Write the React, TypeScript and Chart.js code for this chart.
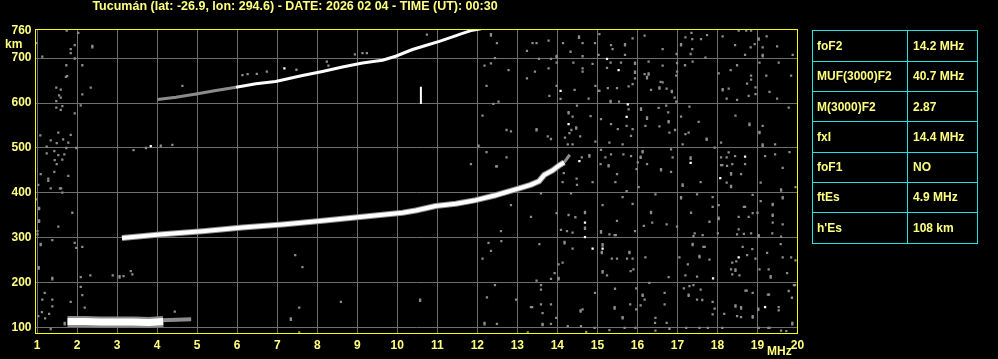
import React, { useEffect, useRef } from 'react';
import { Chart, registerables } from 'chart.js';

Chart.register(...registerables);

// ---------- text ----------
const TITLE = 'Tucumán (lat: -26.9, lon: 294.6) - DATE: 2026 02 04 - TIME (UT): 00:30';
const X_UNIT = 'MHz';
const Y_UNIT = 'km';

// ---------- axes ----------
const F_MIN = 0.96;
const F_MAX = 20;
const H_MIN = 87.5;
const H_MAX = 764.6;
const X_TICKS = [1, 2, 3, 4, 5, 6, 7, 8, 9, 10, 11, 12, 13, 14, 15, 16, 17, 18, 19, 20];
const Y_TICKS = [100, 200, 300, 400, 500, 600, 700, 760];

// ---------- parameter table ----------
const PARAM_NAMES = ['foF2', 'MUF(3000)F2', 'M(3000)F2', 'fxI', 'foF1', 'ftEs', "h'Es"];
const PARAM_VALUES = ['14.2 MHz', '40.7 MHz', '2.87', '14.4 MHz', 'NO', '4.9 MHz', '108 km'];

// ---------- traces [frequency MHz, virtual height km] ----------
const f2Trace = [
  [3.12, 300], [4.13, 308], [5.13, 315], [6.13, 323], [7.13, 330], [8.13, 338],
  [9.13, 347], [10.13, 356], [10.46, 361], [10.96, 371], [11.46, 376], [11.96, 384],
  [12.46, 395], [12.96, 408], [13.33, 418], [13.54, 426], [13.67, 440], [13.88, 450],
  [14.04, 461], [14.17, 468],
];
const f2Tail = [[14.17, 468], [14.31, 485]];
const f2SecondHopFaint = [[4.01, 608], [4.47, 613], [4.97, 620], [5.47, 628], [5.97, 635]];
const f2SecondHop = [
  [5.97, 635], [6.47, 643], [6.96, 648], [7.63, 661], [8.13, 670], [8.63, 680],
  [9.13, 689], [9.63, 695], [9.96, 704], [10.38, 719], [10.71, 728], [11.05, 737],
  [11.38, 747], [11.63, 755], [11.84, 761], [12.09, 765],
];
const esTrace = [[1.76, 114], [2.2, 114], [2.6, 113], [3.0, 113], [3.4, 113], [3.8, 112], [4.15, 114]];
const esTail = [[4.1, 117], [4.5, 118], [4.85, 119]];
const markerSegment = [[10.59, 598], [10.59, 636]];

// ---------- scattered echoes ----------
const noiseWhite = [
  [7.18, 677], [3.84, 504], [14.08, 627], [14.28, 553], [15.24, 698], [15.53, 673],
  [15.76, 597], [15.73, 569], [18.69, 481], [18.07, 433], [17.33, 467], [14.55, 471],
  [14.69, 334], [14.69, 302], [14.88, 276], [15.13, 276], [18.53, 257], [17.89, 210],
  [19.19, 146], [4.43, 612], [4.97, 620],
];
const noiseGray = [
  [1.74, 761], [2.03, 756], [0.98, 733], [1.94, 729], [1.84, 720], [1.84, 711], [2.38, 727], [2.38, 724],
  [1.13, 703], [1.94, 699], [1.73, 684], [2.13, 684], [1.72, 658], [1.75, 660], [1.48, 634], [1.59, 630],
  [2.34, 634], [2.13, 619], [1.55, 617], [1.59, 612], [1.48, 604], [1.63, 593], [1.48, 590], [1.59, 585],
  [2.09, 595], [1.94, 577], [4.63, 638], [6.26, 664], [6.13, 662], [6.49, 665], [6.74, 670], [7.48, 674],
  [8.24, 692], [8.28, 683], [8.94, 708], [9.13, 711], [9.24, 711], [1.08, 528], [1.34, 517], [1.53, 534],
  [1.65, 519], [1.78, 512], [1.84, 529], [1.49, 511], [1.24, 503], [1.73, 500], [1.98, 500], [1.43, 493],
  [1.24, 488], [1.53, 484], [1.68, 486], [1.44, 473], [1.63, 474], [1.49, 464], [1.43, 447], [1.09, 442],
  [1.78, 438], [1.28, 432], [3.41, 495], [3.72, 500], [4.09, 505], [4.38, 507],
  [10.74, 752], [12.34, 753], [12.34, 750], [12.49, 733], [12.44, 700], [12.18, 683], [12.34, 688], [12.78, 673],
  [12.23, 638], [12.53, 603], [12.4, 598], [12.13, 572], [12.73, 540], [12.84, 537], [13.48, 542], [13.48, 539],
  [13.76, 526], [13.84, 520], [12.03, 505], [12.23, 491], [12.73, 479], [11.84, 464], [12.49, 459], [13.38, 733],
  [13.48, 733], [13.24, 716], [13.78, 739], [13.54, 698], [13.84, 698], [13.98, 705], [13.98, 702], [13.78, 677],
  [13.44, 670], [13.24, 655], [13.98, 638], [13.8, 616], [14.08, 609], [14.43, 629], [14.14, 733], [14.54, 748],
  [14.54, 745], [14.63, 733], [14.94, 733], [14.33, 714], [14.63, 704], [13.98, 690], [14.4, 690], [14.63, 677],
  [14.63, 670], [14.88, 687], [14.95, 638], [15.03, 627], [14.78, 610], [14.49, 594], [14.28, 580], [14.28, 577],
  [14.38, 570], [14.83, 571], [14.47, 546], [14.47, 543], [14.35, 540], [14.3, 533], [14.19, 523], [14.57, 526],
  [14.38, 508], [14.26, 508], [15.05, 753], [15.34, 729], [15.69, 731], [15.69, 728], [15.38, 720], [15.88, 744],
  [15.03, 707], [15.69, 707], [15.24, 678], [15.33, 690], [15.59, 690], [15.94, 690], [15.94, 687], [15.94, 670],
  [15.94, 667], [15.94, 655], [15.88, 642], [15.78, 637], [15.49, 633], [15.26, 633], [15.05, 627], [15.33, 605],
  [15.33, 602], [15.54, 603], [15.78, 586], [15.73, 549], [15.51, 542], [15.34, 553], [15.09, 564], [15.88, 542],
  [15.84, 527], [15.63, 508], [15.3, 512], [14.95, 514], [16.18, 750], [16.63, 720], [16.98, 709], [17.09, 731],
  [17.09, 728], [17.2, 746], [17.37, 742], [17.35, 756], [17.59, 742], [17.74, 751], [17.37, 720], [17.33, 709],
  [17.7, 701], [17.38, 692], [17.19, 684], [16.99, 689], [16.63, 683], [16.28, 692], [16.18, 664], [16.28, 666],
  [16.28, 663], [16.24, 658], [16.24, 655], [16.58, 647], [16.63, 646], [16.55, 635], [16.55, 632], [16.34, 629],
  [16.73, 632], [16.86, 627], [16.86, 624], [16.97, 661], [16.99, 670], [16.93, 612], [16.97, 603], [16.72, 594],
  [16.53, 589], [16.09, 588], [16.09, 585], [16.24, 568], [16.24, 565], [16.77, 579], [16.78, 560], [16.78, 557],
  [17.09, 570], [16.2, 549], [16.55, 548], [16.94, 540], [16.8, 534], [17.2, 531], [17.28, 534], [17.3, 592],
  [17.53, 558], [17.73, 521], [17.73, 518], [17.13, 508], [17.93, 501], [18.13, 748], [18.44, 729], [18.53, 761],
  [18.72, 761], [18.84, 761], [18.93, 731], [18.83, 724], [19.03, 744], [19.03, 741], [19.23, 748], [19.13, 724],
  [19.13, 707], [19.13, 704], [19.49, 726], [19.88, 707], [18.69, 707], [19.05, 690], [19.53, 690], [18.49, 684],
  [18.33, 673], [18.03, 666], [18.84, 661], [18.84, 652], [18.74, 643], [18.95, 635], [18.13, 631], [18.13, 628],
  [18.28, 632], [19.3, 625], [18.78, 616], [18.95, 620], [18.23, 610], [18.49, 607], [19.49, 610], [19.78, 590],
  [19.22, 661], [19.84, 661], [18.45, 572], [18.8, 554], [18.8, 551], [19.13, 549], [19.05, 536], [19.05, 533],
  [19.13, 508], [19.13, 505], [19.44, 508], [18.09, 512], [18.28, 490], [18.09, 479], [18.23, 479], [18.44, 482],
  [18.09, 462], [18.12, 462], [18.24, 460], [18.34, 444], [18.34, 441], [18.59, 442], [18.37, 464], [18.69, 464],
  [19.19, 482], [19.44, 486], [19.8, 491], [19.63, 456], [17.33, 479], [17.33, 476], [16.84, 497], [16.88, 479],
  [16.59, 453], [16.59, 450], [16.84, 447], [16.24, 464], [16.08, 481], [16.08, 478], [16.13, 493], [16.13, 490],
  [16.01, 468], [15.84, 482], [15.65, 486], [15.34, 486], [15.2, 479], [15.28, 462], [15.28, 459], [15.08, 464],
  [15.49, 442], [15.98, 453], [14.8, 484], [14.8, 481], [15.09, 496], [14.61, 479], [14.48, 432], [14.16, 444],
  [13.97, 454], [12.47, 459],
  [1.28, 427], [1.03, 418], [1.34, 410], [1.57, 410], [1.6, 410], [1.63, 401], [0.97, 386], [1.05, 367],
  [1.05, 364], [1.88, 356], [1.05, 339], [1.05, 336], [1.53, 325], [1.01, 315], [1.01, 308], [1.38, 295],
  [1.09, 287], [1.09, 284], [1.94, 289], [2.13, 280], [1.98, 278], [1.04, 235], [1.04, 232], [2.33, 217],
  [2.09, 213], [1.38, 211], [1.38, 208], [2.89, 217], [3.06, 215], [3.06, 212], [3.16, 215], [3.34, 226],
  [3.38, 219], [2.09, 191], [2.13, 173], [1.19, 178], [1.13, 163], [1.38, 163], [1.38, 148], [1.84, 158],
  [2.19, 145], [1.12, 135], [1.3, 131], [1.2, 121], [1.03, 126], [1.34, 97], [1.69, 111], [1.69, 108],
  [4.44, 136], [7.45, 262], [7.63, 235], [8.59, 158], [7.55, 145], [7.34, 121], [7.34, 118], [7.55, 90],
  [14.13, 424], [14.49, 418], [14.88, 424], [15.45, 424], [16.03, 413], [17.13, 419], [17.13, 416], [17.58, 424],
  [18.23, 423], [18.34, 416], [18.34, 413], [19.08, 423], [19.59, 408], [19.59, 405], [19.95, 413], [13.59, 399],
  [14.34, 399], [15.63, 391], [15.73, 404], [16.45, 397], [17.09, 391], [17.09, 388], [17.49, 397], [17.88, 391],
  [18.88, 396], [19.63, 391], [19.63, 388], [19.08, 382], [19.38, 376], [19.38, 373], [18.66, 369], [18.69, 369],
  [18.03, 373], [17.88, 369], [15.88, 376], [15.13, 373], [12.84, 373], [13.34, 347], [13.98, 355], [14.28, 351],
  [14.45, 346], [14.69, 358], [14.69, 355], [14.69, 323], [14.69, 320], [15.49, 338], [16.34, 358], [16.34, 355],
  [16.37, 334], [16.73, 330], [17.34, 356], [17.8, 336], [18.03, 345], [18.03, 342], [18.53, 347], [18.78, 347],
  [19.38, 352], [19.38, 349], [19.38, 334], [19.63, 330], [18.88, 355], [19.0, 356], [14.09, 318], [14.24, 315],
  [14.38, 312], [15.09, 315], [15.09, 312], [15.3, 308], [15.43, 306], [15.46, 306], [15.94, 315], [16.16, 327],
  [16.99, 325], [17.43, 310], [17.63, 306], [17.4, 304], [18.01, 310], [18.49, 308], [18.66, 309], [18.84, 310],
  [19.03, 306], [19.03, 303], [19.37, 310], [19.59, 303], [18.53, 319], [12.59, 315], [12.28, 289], [12.6, 293],
  [12.34, 271], [12.13, 254], [13.55, 286], [14.18, 291], [14.18, 288], [14.38, 276], [15.13, 286], [15.13, 283],
  [15.11, 269], [15.11, 266], [15.8, 269], [15.8, 266], [15.36, 254], [15.49, 254], [15.74, 254], [15.88, 254],
  [16.2, 257], [17.38, 287], [17.38, 284], [17.65, 280], [17.68, 280], [17.55, 260], [17.55, 257], [17.05, 257],
  [17.26, 241], [17.8, 252], [18.47, 248], [18.37, 245], [18.45, 230], [18.45, 227], [18.34, 230], [18.37, 219],
  [18.55, 217], [18.63, 280], [18.87, 275], [18.74, 262], [18.95, 254], [19.24, 267], [19.05, 230], [19.28, 230],
  [19.33, 215], [19.33, 212], [19.74, 222], [19.63, 257], [19.84, 257], [19.58, 286], [19.95, 250], [14.13, 245],
  [14.03, 241], [13.93, 222], [13.84, 209], [14.03, 211], [14.03, 208], [13.48, 205], [15.13, 226], [15.13, 223],
  [15.24, 217], [15.83, 226], [15.9, 230], [16.78, 213], [17.2, 217], [17.49, 214], [12.44, 195], [13.59, 195],
  [13.59, 185], [12.24, 168], [12.97, 163], [13.34, 146], [13.37, 146], [13.59, 152], [13.84, 152], [14.94, 178],
  [15.44, 187], [15.43, 146], [15.43, 143], [15.63, 124], [15.63, 121], [15.82, 152], [15.97, 188], [15.97, 141],
  [16.13, 174], [16.13, 171], [16.18, 163], [16.08, 150], [16.3, 200], [16.68, 178], [16.68, 152], [16.45, 122],
  [16.73, 111], [16.44, 111], [17.16, 188], [17.3, 193], [17.4, 195], [17.58, 185], [17.28, 174], [17.28, 171],
  [17.49, 163], [17.62, 162], [17.88, 158], [17.93, 143], [17.88, 130], [18.17, 131], [18.45, 150], [18.45, 147],
  [18.59, 146], [18.59, 143], [18.7, 183], [18.73, 183], [18.88, 178], [18.49, 126], [18.59, 124], [18.88, 126],
  [18.88, 123], [19.02, 143], [19.02, 140], [19.26, 174], [19.29, 174], [19.53, 146], [19.53, 139], [19.78, 182],
  [19.86, 167], [19.91, 195], [19.94, 195], [19.87, 111], [19.87, 108], [19.27, 100], [19.3, 100], [19.03, 100],
  [19.59, 94], [19.72, 93], [18.12, 100], [17.76, 100], [17.55, 100], [17.22, 100], [16.8, 98], [16.45, 94],
  [15.95, 100], [15.68, 100], [15.3, 95], [14.93, 100], [14.72, 91], [14.59, 104], [14.26, 104], [13.63, 109],
  [13.63, 106], [13.84, 109], [13.26, 90], [12.49, 109], [12.18, 111], [12.18, 108], [10.57, 163], [10.57, 160],
  [13.63, 133], [13.97, 122], [14.58, 139], [14.58, 136], [14.63, 141],
];

// ---------- colours ----------
const BG = '#000000';
const GRID = '#6e6e6e';
const FRAME = '#ffff00';
const TEXT = '#ffff80';
const TABLE_LINE = '#22e0e0';
const ECHO_WHITE = '#ffffff';
const ECHO_GRAY = '#8c8c8c';
const FONT = '"Liberation Sans", Arial, sans-serif';

const toXY = (arr: number[][]) => arr.map(([x, y]) => ({ x, y }));

const decorPlugin = {
  id: 'ionogramDecor',
  beforeDraw(chart: any) {
    const { ctx, width, height } = chart;
    ctx.save();
    ctx.fillStyle = BG;
    ctx.fillRect(0, 0, width, height);
    ctx.restore();
  },
  afterDraw(chart: any) {
    const { ctx, chartArea } = chart;
    const { left, top, right, bottom } = chartArea;
    ctx.save();
    // frame (pixel-aligned)
    const x0 = Math.floor(left) + 0.5;
    const x1 = Math.floor(right) + 0.5;
    const y0 = Math.floor(top) + 0.5;
    const y1 = Math.floor(bottom) + 0.5;
    ctx.strokeStyle = FRAME;
    ctx.lineWidth = 1;
    ctx.strokeRect(x0, y0, x1 - x0, y1 - y0);
    // title
    ctx.fillStyle = TEXT;
    ctx.font = `bold 12.5px ${FONT}`;
    ctx.textBaseline = 'middle';
    ctx.textAlign = 'center';
    ctx.fillText(TITLE, 295, 7);
    // unit labels
    ctx.font = `bold 12px ${FONT}`;
    ctx.textAlign = 'left';
    ctx.fillText(Y_UNIT, 5, 45);
    ctx.fillText(X_UNIT, 767, 352);
    // table
    const tLeft = 812.5, tRight = 977.5, tMid = 907.5, tTop = 30.5, rowH = 30.3;
    const tBottom = Math.round(tTop + rowH * PARAM_NAMES.length) + 0.5;
    ctx.strokeStyle = TABLE_LINE;
    ctx.lineWidth = 1;
    ctx.strokeRect(tLeft, tTop, tRight - tLeft, tBottom - tTop);
    ctx.beginPath();
    ctx.moveTo(tMid, tTop);
    ctx.lineTo(tMid, tBottom);
    for (let i = 1; i < PARAM_NAMES.length; i++) {
      const y = Math.round(tTop + rowH * i) + 0.5;
      ctx.moveTo(tLeft, y);
      ctx.lineTo(tRight, y);
    }
    ctx.stroke();
    ctx.fillStyle = TEXT;
    ctx.textBaseline = 'middle';
    PARAM_NAMES.forEach((name, i) => {
      const cy = tTop + rowH * (i + 0.5) + 1;
      ctx.fillText(name, 817, cy);
      ctx.fillText(PARAM_VALUES[i], 913, cy);
    });
    ctx.restore();
  },
};

function lineDs(data: number[][], color: string, width: number) {
  return {
    data: toXY(data),
    showLine: true,
    borderColor: color,
    backgroundColor: color,
    borderWidth: width,
    pointRadius: 0,
    tension: 0,
    borderCapStyle: 'butt',
    borderJoinStyle: 'round',
  };
}

function dotDs(data: number[][], color: string) {
  return {
    data: toXY(data),
    showLine: false,
    pointStyle: 'rect',
    pointRadius: 1.6,
    pointBorderWidth: 0,
    borderWidth: 0,
    backgroundColor: color,
    borderColor: color,
  };
}

export default function App() {
  const canvasRef = useRef<HTMLCanvasElement | null>(null);

  useEffect(() => {
    document.body.style.margin = '0';
    document.body.style.background = BG;
    const canvas = canvasRef.current;
    if (!canvas) return;
    const chart = new Chart(canvas, {
      type: 'scatter',
      data: {
        datasets: [
          lineDs(markerSegment, ECHO_WHITE, 2),
          lineDs(f2Trace, ECHO_WHITE, 4),
          lineDs(f2Trace, ECHO_GRAY, 6),
          lineDs(f2Tail, ECHO_GRAY, 3),
          lineDs(f2SecondHop, ECHO_WHITE, 3),
          lineDs(f2SecondHopFaint, ECHO_GRAY, 3),
          lineDs(esTrace, ECHO_WHITE, 7),
          lineDs(esTrace, ECHO_GRAY, 11),
          lineDs(esTail, ECHO_GRAY, 4),
          dotDs(noiseWhite, ECHO_WHITE),
          dotDs(noiseGray, ECHO_GRAY),
        ] as any,
      },
      options: {
        responsive: false,
        maintainAspectRatio: false,
        animation: false,
        devicePixelRatio: 1,
        events: [],
        layout: { padding: { left: 0, top: 29, right: 200.5, bottom: 0 } },
        plugins: { legend: { display: false }, tooltip: { enabled: false }, title: { display: false } },
        scales: {
          x: {
            type: 'linear',
            min: F_MIN,
            max: F_MAX,
            afterBuildTicks: (scale: any) => {
              scale.ticks = X_TICKS.map((v) => ({ value: v }));
            },
            afterFit: (scale: any) => {
              scale.height = 25.5;
            },
            grid: { color: GRID, lineWidth: 1, drawTicks: false },
            border: { display: false },
            ticks: {
              color: TEXT,
              font: { family: FONT, size: 12, weight: 'bold' },
              padding: 5,
              autoSkip: false,
              maxRotation: 0,
              minRotation: 0,
              callback: (v: any) => String(v),
            },
          },
          y: {
            type: 'linear',
            min: H_MIN,
            max: H_MAX,
            afterBuildTicks: (scale: any) => {
              scale.ticks = Y_TICKS.map((v) => ({ value: v }));
            },
            afterFit: (scale: any) => {
              scale.width = 35.5;
            },
            grid: {
              color: (c: any) => (c.tick && c.tick.value === 760 ? 'rgba(0,0,0,0)' : GRID),
              lineWidth: 1,
              drawTicks: false,
            },
            border: { display: false },
            ticks: {
              color: TEXT,
              font: { family: FONT, size: 12, weight: 'bold' },
              padding: 4,
              autoSkip: false,
              callback: (v: any) => String(v),
            },
          },
        },
      } as any,
      plugins: [decorPlugin],
    });
    return () => chart.destroy();
  }, []);

  return <canvas ref={canvasRef} width={998} height={359} style={{ display: 'block' }} />;
}
